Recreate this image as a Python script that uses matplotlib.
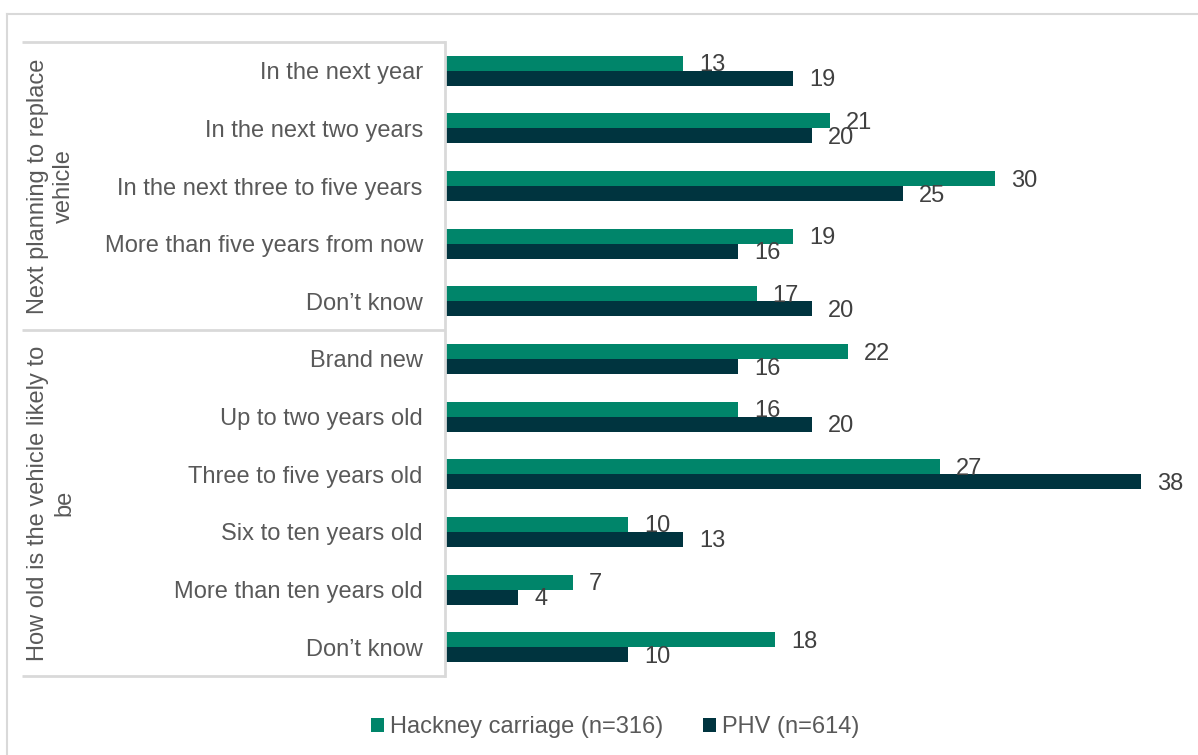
import matplotlib.pyplot as plt
from matplotlib.lines import Line2D
from matplotlib.transforms import blended_transform_factory
import numpy as np

plt.rcParams['font.family'] = ['Liberation Sans', 'DejaVu Sans']

# survey answers, top to bottom
categories = [
    "In the next year",
    "In the next two years",
    "In the next three to five years",
    "More than five years from now",
    "Don\u2019t know",
    "Brand new",
    "Up to two years old",
    "Three to five years old",
    "Six to ten years old",
    "More than ten years old",
    "Don\u2019t know",
]
groups = ["Next planning to replace\nvehicle", "How old is the vehicle likely to\nbe"]
group_sizes = [5, 6]

hackney = [13, 21, 30, 19, 17, 22, 16, 27, 10, 7, 18]
phv = [19, 20, 25, 16, 20, 16, 20, 38, 13, 4, 10]
series_names = ["Hackney carriage (n=316)", "PHV (n=614)"]

GREEN = "#00856A"
DARK = "#00343F"
GRID = "#D9D9D9"
TXT = "#595959"
VAL = "#404040"

W, H = 1198, 755
fig = plt.figure(figsize=(W / 100, H / 100), dpi=100)

# plot area in pixels
x0, x1 = 445, 1189
y0, y1 = 42, 676
ax = fig.add_axes([x0 / W, 1 - y1 / H, (x1 - x0) / W, (y1 - y0) / H])

y = np.arange(len(categories))
h = 0.26
ax.barh(y - h / 2, hackney, height=h, color=GREEN, label=series_names[0])
ax.barh(y + h / 2, phv, height=h, color=DARK, label=series_names[1])

for yi, v in zip(y - h / 2, hackney):
    ax.annotate(str(v), (v, yi), xytext=(11.5, -1.5), textcoords="offset points",
                va="center", ha="left", fontsize=17, color=VAL)
for yi, v in zip(y + h / 2, phv):
    ax.annotate(str(v), (v, yi), xytext=(11.5, -1.5), textcoords="offset points",
                va="center", ha="left", fontsize=17, color=VAL)

ax.set_xlim(0, 40.6)
ax.set_ylim(len(categories) - 0.5, -0.5)
ax.set_xticks([])
ax.set_yticks(y)
ax.set_yticklabels(categories, fontsize=17, color=TXT)
ax.tick_params(axis="y", length=0, pad=16)
for s in ["top", "right", "bottom"]:
    ax.spines[s].set_visible(False)
ax.spines["left"].set_color(GRID)
ax.spines["left"].set_linewidth(2)

# category table lines and group labels on the left
tr = blended_transform_factory(ax.transAxes, ax.transData)
left = (22 - x0) / (x1 - x0)
edges = [-0.5]
for n in group_sizes:
    edges.append(edges[-1] + n)
for e in edges:
    ax.plot([left, 0], [e, e], transform=tr, color=GRID, lw=2, clip_on=False,
            solid_capstyle="butt")
for g, a, b in zip(groups, edges[:-1], edges[1:]):
    ax.text((51 - x0) / (x1 - x0), (a + b) / 2, g, transform=tr, rotation=90,
            ha="center", va="center", fontsize=17, color=TXT,
            multialignment="center", linespacing=1.25)

# outer frame
fig.add_artist(Line2D([7 / W, 1], [1 - 14 / H, 1 - 14 / H], color=GRID, lw=1.5))
fig.add_artist(Line2D([7 / W, 7 / W], [0, 1 - 14 / H], color=GRID, lw=1.5))

fig.legend(loc="center", bbox_to_anchor=(615 / W, 1 - 727 / H), ncol=2,
           frameon=False, fontsize=17, labelcolor=TXT, handlelength=0.55,
           handleheight=0.55, handletextpad=0.25, columnspacing=1.7)

fig.savefig("out.png", dpi=100)
